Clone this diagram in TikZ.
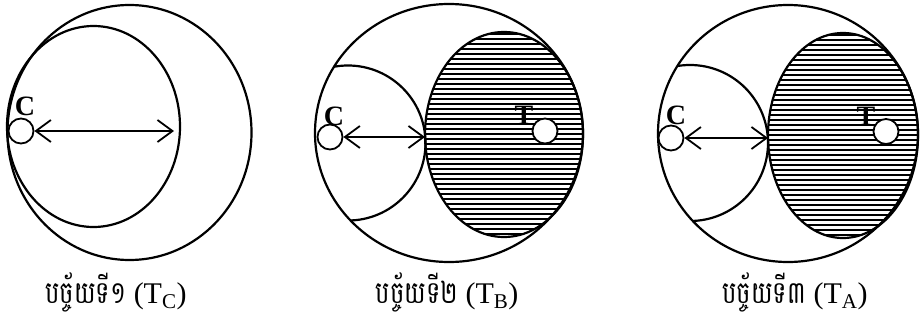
\documentclass[tikz,border=0pt]{standalone}
\usepackage{fontspec}
\setmainfont{Liberation Serif}
\newfontfamily\khmerfont[Script=Khmer, FakeStretch=0.78]{Battambang}
\usepackage{tikz}
\usetikzlibrary{positioning, arrows.meta, shapes.geometric}

\begin{document}
\begin{tikzpicture}[x=1pt, y=-1pt,
    rim/.style={draw, ellipse, line width=2.2pt, inner sep=0pt, outer sep=0pt},
    ball/.style={draw, circle, fill=white, line width=1.8pt, minimum size=25pt, inner sep=0pt},
    tag/.style={font=\bfseries\fontsize{28}{28}\selectfont, inner sep=0pt},
    caption/.style={font=\fontsize{30}{30}\selectfont, inner sep=0pt},
    span/.style={<->, >={Straight Barb[length=15pt, width=22pt]}, line width=1.8pt},
    hatched/.style={rim, path picture={
        \foreach \k in {0,...,44}
          \draw[line width=2.6pt] ([yshift=-2pt-\k*5pt]path picture bounding box.north west)
            -- ([yshift=-2pt-\k*5pt]path picture bounding box.north east);}}]
    \useasboundingbox (0,0) rectangle (920,324);

    % panel 1
    \node[rim, minimum width=244pt, minimum height=255pt] (rimA) at (129.5,132.5) {};
    \node[rim, minimum width=173pt, minimum height=201pt] (lobeA) at (93.5,126.5) {};
    \node[ball] (cA) at (21,131) {};
    \node[tag] (cAlbl) at (25,106) {C};
    \draw[span] (cA) -- ([xshift=-6pt]cA -| lobeA.east);

    % panel 2
    \node[rim, minimum width=268pt, minimum height=258pt] (rimB) at (449,133) {};
    \begin{scope}
      \clip (449,133) ellipse [x radius=134, y radius=129];
      \draw[line width=2.2pt] (348,143) circle [radius=77.5];
    \end{scope}
    \node[hatched, minimum width=158pt, minimum height=205pt] (lobeB) at (504,134.5) {};
    \node[ball] (cB) at (330,137) {};
    \node[tag] (cBlbl) at (334,116) {C};
    \node[ball] (tB) at (545,131) {};
    \node[tag] (tBlbl) at (524,115) {T};
    \draw[span] (cB) -- (cB -| lobeB.west);

    % panel 3
    \node[rim, minimum width=260pt, minimum height=257pt] (rimC) at (788,133.5) {};
    \begin{scope}
      \clip (788,133.5) ellipse [x radius=130, y radius=128.5];
      \draw[line width=2.2pt] (690,143) circle [radius=78];
    \end{scope}
    \node[hatched, minimum width=150pt, minimum height=205pt] (lobeC) at (843,135.5) {};
    \node[ball] (cC) at (671,138) {};
    \node[tag] (cClbl) at (676,115) {C};
    \node[ball] (tC) at (886,131.5) {};
    \node[tag] (tClbl) at (866,116) {T};
    \draw[span] (cC) -- (cC -| lobeC.west);

    % captions
    \node[caption] (capA) at (116,292) {{\khmerfont\fontsize{31}{31}\selectfont បច្ច័យទី១} (T\textsubscript{C})};
    \node[caption] (capB) at (447,292) {{\khmerfont\fontsize{31}{31}\selectfont បច្ច័យទី២} (T\textsubscript{B})};
    \node[caption] (capC) at (795,292) {{\khmerfont\fontsize{31}{31}\selectfont បច្ច័យទី៣} (T\textsubscript{A})};
\end{tikzpicture}
\end{document}
